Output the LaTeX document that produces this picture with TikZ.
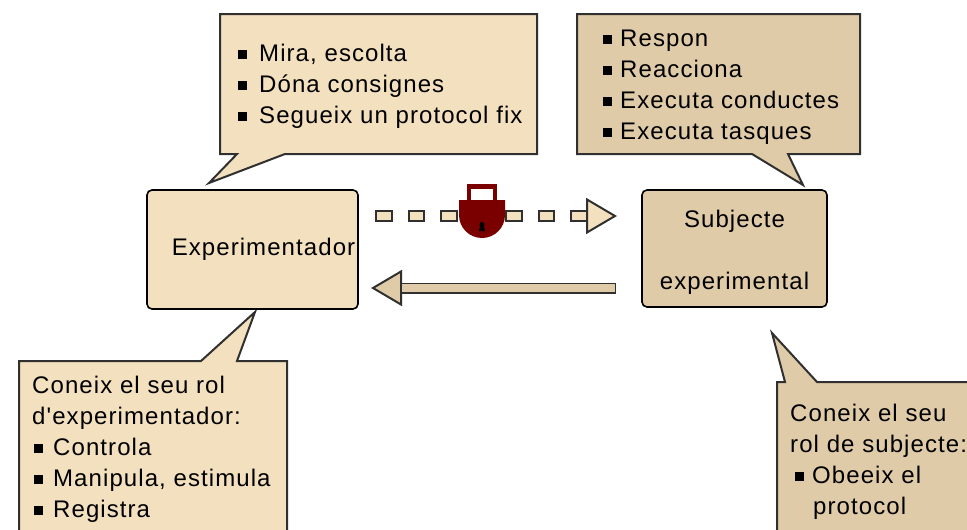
\documentclass[tikz,border=0pt]{standalone}
\usepackage{fontspec}
\setmainfont[LetterSpace=4.5,Ligatures=TeXOff]{Liberation Sans}
\usetikzlibrary{arrows.meta}

\definecolor{lightsand}{HTML}{F3E0BE}
\definecolor{darksand}{HTML}{DFCBA8}
\definecolor{lockred}{HTML}{7A0000}
\definecolor{edgegrey}{HTML}{303030}
\newcommand{\blt}[1][12pt]{\rule[2.5pt]{9pt}{9pt}\hspace{#1}}

\tikzset{
	labeltext/.style = {align = left, anchor = north west, inner sep = 0pt,
		font = \fontsize{24}{31}\selectfont},
	rolebox/.style = {rectangle, draw, line width = 1.6pt, rounded corners = 5pt,
		align = center, inner sep = 0pt, font = \fontsize{24}{31}\selectfont},
	speech/.style = {draw = edgegrey, line width = 2pt, line join = miter},
	tipped/.style = {-{Triangle[length = 31pt, width = 36pt, line width = 2pt, fill = #1]}}
}

\begin{document}
\begin{tikzpicture}[x = 1pt, y = -1pt]
\clip (0,0) rectangle (967,530);

\draw[speech, fill = lightsand] (220,14) -- (537,14) -- (537,154) -- (285,154) -- (209,183) -- (237,154) -- (220,154) -- cycle;
\draw[speech, fill = darksand] (577,14) -- (860,14) -- (860,154) -- (788,154) -- (803,185) -- (752,154) -- (577,154) -- cycle;
\draw[speech, fill = lightsand] (19,361) -- (201,361) -- (255,312) -- (237,361) -- (287,361) -- (287,545) -- (19,545) -- cycle;
\draw[speech, fill = darksand] (777,382) -- (785,382) -- (772,333) -- (817,382) -- (985,382) -- (985,545) -- (777,545) -- cycle;

\node[labeltext] (mira) at (238,44) {\blt Mira, escolta\\\blt Dóna consignes\\\blt Segueix un protocol fix};
\node[labeltext] (respon) at (603,30) {\blt[8pt]Respon\\\blt[8pt]Reacciona\\\blt[8pt]Executa conductes\\\blt[8pt]Executa tasques};
\node[labeltext] (coneixexp) at (32,376) {Coneix el seu rol\\d'experimentador:\\\hspace{2pt}\blt[10pt]Controla\\\hspace{2pt}\blt[10pt]Manipula, estimula\\\hspace{2pt}\blt[10pt]Registra};
\node[labeltext] (coneixsub) at (790,404) {Coneix el seu\\rol de subjecte:\\\hspace{5pt}\blt[8pt]Obeeix el\\\hspace{23pt}protocol};

\node[rolebox, fill = lightsand, minimum width = 211pt, minimum height = 119pt] (exp) at (252.5,249.5) {\hspace{22pt}Experimentador};
\node[rolebox, fill = darksand, minimum width = 185pt, minimum height = 117pt] (sub) at (734.5,248.5) {\rule{0pt}{25pt}Subjecte\\ \\experimental};

\coordinate (dashstart) at (375,216);
\coordinate (dashend) at (617,216);
\coordinate (backstart) at (616,288);
\coordinate (backend) at (371,288);

\draw[tipped = lightsand, draw = edgegrey, line width = 12pt, dash pattern = on 17.5pt off 15pt] (dashstart) -- (dashend);
\draw[lightsand, line width = 8pt, shorten <= 2pt, shorten >= 31pt, dash pattern = on 13.5pt off 19pt] (dashstart) -- (dashend);
\draw[tipped = darksand, draw = edgegrey, line width = 11pt] (backstart) -- (backend);
\draw[darksand, line width = 7.5pt, shorten <= 1.5pt, shorten >= 31pt] (backstart) -- (backend);

\draw[lockred, line width = 4.5pt, fill = white] (469,202) -- (469,186.5) -- (495,186.5) -- (495,202);
\fill[lockred] (459,200) -- (505,200) -- (505,215) arc[start angle = 0, end angle = 180, radius = 23] -- cycle;
\fill[black] (482,224.5) circle (2.5pt);
\fill[black] (480.5,224) -- (483.5,224) -- (485,231) -- (479,231) -- cycle;
\end{tikzpicture}
\end{document}
